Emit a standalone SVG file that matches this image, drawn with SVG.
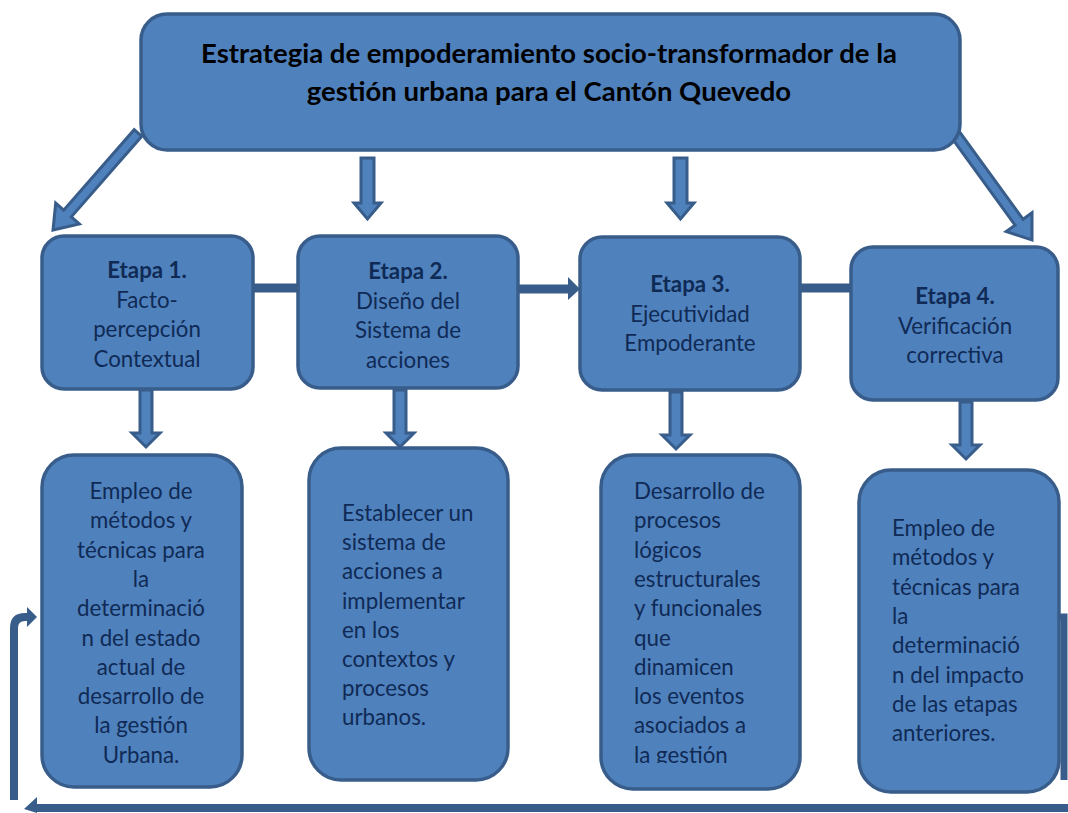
<svg xmlns="http://www.w3.org/2000/svg" width="1068" height="813" viewBox="0 0 1068 813">
<style>
.box{fill:#4F81BD;stroke:#385D8A;stroke-width:3.5}
.arr{fill:#4F81BD;stroke:#385D8A;stroke-width:3;stroke-linejoin:miter}
.bar{fill:none;stroke:#385D8A;stroke-width:9}
.title{font-family:Lato,"Liberation Sans",sans-serif;font-weight:bold;font-size:27.5px;fill:#000;text-anchor:middle}
.t{font-family:Lato,"Liberation Sans",sans-serif;font-size:22.3px;fill:#0F2A55}
.c{text-anchor:middle}
.b{font-weight:bold}
</style>
<defs>
<clipPath id="clip3"><rect x="590" y="440" width="220" height="323"/></clipPath>
</defs>

<g id="connectors">
<polygon class="arr" points="141.8,136.3 71.3,216.8 79.3,223.9 53,230 55.7,203.1 63.7,210.2 134.2,129.7"/>
<polygon class="arr" points="951.0,136.9 1015.1,225.1 1006.2,231.6 1032,240 1032.0,212.8 1023.1,219.3 959.0,131.1"/>
<polygon class="arr" points="361,158 374,158 374,203 381,203 367.5,219 354,203 361,203"/>
<polygon class="arr" points="674,158 687,158 687,203 694,203 680.5,219 667,203 674,203"/>
<polygon class="arr" points="140,390 152,390 152,433 160,433 146,447 132,433 140,433"/>
<polygon class="arr" points="394,390 406,390 406,433 414,433 400,447 386,433 394,433"/>
<polygon class="arr" points="670,392 682,392 682,435 690,435 676,449 662,435 670,435"/>
<polygon class="arr" points="960,402 972,402 972,445 980,445 966,459 952,445 960,445"/>
<line class="bar" x1="253" y1="288" x2="298" y2="288"/>
<line class="bar" x1="519" y1="289" x2="569" y2="289"/>
<polygon points="568,277 580,289 568,300" fill="#385D8A"/>
<line class="bar" x1="800" y1="288" x2="851" y2="288"/>
<path d="M1054,617 H1064 V780" fill="none" stroke="#385D8A" stroke-width="7"/>
<line x1="1068" y1="808" x2="36" y2="808" stroke="#385D8A" stroke-width="8"/>
<polygon points="24,809 37,797 37,813" fill="#385D8A"/>
<path d="M14,800 V628 Q14,617 25,617 H28" fill="none" stroke="#385D8A" stroke-width="8"/>
<polygon points="27,607 37,617 27,627" fill="#385D8A"/>
</g>

<g id="title">
<rect class="box" x="141" y="14" width="819" height="136" rx="26"/>
<text class="title" x="549" y="63">Estrategia de empoderamiento socio-transformador de la</text>
<text class="title" x="549" y="101">gestión urbana para el Cantón Quevedo</text>
</g>

<g id="etapa1">
<rect class="box" x="42" y="236" width="211" height="153" rx="22"/>
<text class="t c" x="147" y="278"><tspan class="b">Etapa 1.</tspan><tspan x="147" dy="29.5">Facto-</tspan><tspan x="147" dy="29.5">percepción</tspan><tspan x="147" dy="29.5">Contextual</tspan></text>
</g>
<g id="etapa2">
<rect class="box" x="298" y="236" width="220" height="152" rx="22"/>
<text class="t c" x="408" y="279"><tspan class="b">Etapa 2.</tspan><tspan x="408" dy="29.5">Diseño del</tspan><tspan x="408" dy="29.5">Sistema de</tspan><tspan x="408" dy="29.5">acciones</tspan></text>
</g>
<g id="etapa3">
<rect class="box" x="580" y="237" width="220" height="153" rx="22"/>
<text class="t c" x="690" y="292"><tspan class="b">Etapa 3.</tspan><tspan x="690" dy="29.5">Ejecutividad</tspan><tspan x="690" dy="29.5">Empoderante</tspan></text>
</g>
<g id="etapa4">
<rect class="box" x="851" y="247" width="207" height="153" rx="22"/>
<text class="t c" x="955" y="304"><tspan class="b">Etapa 4.</tspan><tspan x="955" dy="29.5">Verificación</tspan><tspan x="955" dy="29.5">correctiva</tspan></text>
</g>

<g id="desc1">
<rect class="box" x="42" y="455" width="200" height="332" rx="32"/>
<text class="t c" x="141" y="499"><tspan>Empleo de</tspan><tspan x="141" dy="29.3">métodos y</tspan><tspan x="141" dy="29.3">técnicas para</tspan><tspan x="141" dy="29.3">la</tspan><tspan x="141" dy="29.3">determinació</tspan><tspan x="141" dy="29.3">n del estado</tspan><tspan x="141" dy="29.3">actual de</tspan><tspan x="141" dy="29.3">desarrollo de</tspan><tspan x="141" dy="29.3">la gestión</tspan><tspan x="141" dy="29.3">Urbana.</tspan></text>
</g>
<g id="desc2">
<rect class="box" x="309" y="448" width="199" height="332" rx="32"/>
<text class="t" x="342" y="521"><tspan>Establecer un</tspan><tspan x="342" dy="29.2">sistema de</tspan><tspan x="342" dy="29.2">acciones a</tspan><tspan x="342" dy="29.2">implementar</tspan><tspan x="342" dy="29.2">en los</tspan><tspan x="342" dy="29.2">contextos y</tspan><tspan x="342" dy="29.2">procesos</tspan><tspan x="342" dy="29.2">urbanos.</tspan></text>
</g>
<g id="desc3">
<rect class="box" x="601" y="455" width="199" height="334" rx="32"/>
<text class="t" x="634" y="499" clip-path="url(#clip3)"><tspan>Desarrollo de</tspan><tspan x="634" dy="29.3">procesos</tspan><tspan x="634" dy="29.3">lógicos</tspan><tspan x="634" dy="29.3">estructurales</tspan><tspan x="634" dy="29.3">y funcionales</tspan><tspan x="634" dy="29.3">que</tspan><tspan x="634" dy="29.3">dinamicen</tspan><tspan x="634" dy="29.3">los eventos</tspan><tspan x="634" dy="29.3">asociados a</tspan><tspan x="634" dy="29.3">la gestión</tspan></text>
</g>
<g id="desc4">
<rect class="box" x="859" y="470" width="200" height="322" rx="32"/>
<text class="t" x="892" y="536"><tspan>Empleo de</tspan><tspan x="892" dy="29.3">métodos y</tspan><tspan x="892" dy="29.3">técnicas para</tspan><tspan x="892" dy="29.3">la</tspan><tspan x="892" dy="29.3">determinació</tspan><tspan x="892" dy="29.3">n del impacto</tspan><tspan x="892" dy="29.3">de las etapas</tspan><tspan x="892" dy="29.3">anteriores.</tspan></text>
</g>
</svg>
